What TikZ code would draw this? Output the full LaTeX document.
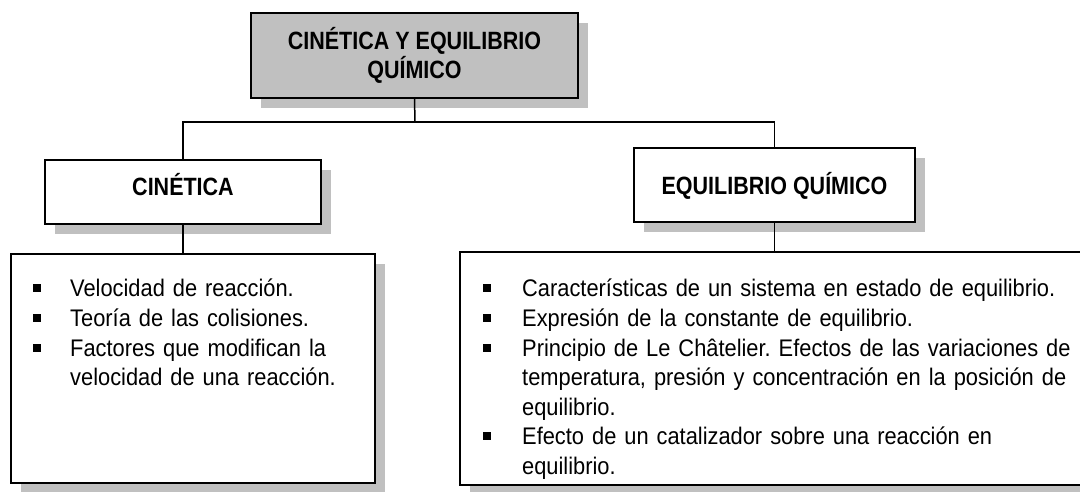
\documentclass[tikz,border=0pt]{standalone}
\usepackage{fontspec}
\setmainfont{Liberation Sans}[FakeStretch=0.91]
\newfontfamily\titlefont{Liberation Sans}[FakeStretch=0.86]
\usetikzlibrary{shadows}
\definecolor{boxgray}{RGB}{192,192,192}
\newlength\bulw
\newcommand{\bul}{\rule[4.5pt]{8pt}{8pt}}
\newcommand{\itm}[1]{\par\noindent\hangindent=\bulw\hangafter=1\makebox[\bulw][l]{\bul}#1}
\frenchspacing
\begin{document}
\begin{tikzpicture}[x=1pt,y=-1pt,
  box/.style={draw=black, line width=1.5pt, fill=white, rectangle, inner sep=0pt,
    drop shadow={shadow xshift=10pt,shadow yshift=-10pt,fill=boxgray,opacity=1}},
  link/.style={draw=black, line width=1.5pt},
  headtext/.style={font=\titlefont\bfseries\fontsize{25}{29}\selectfont},
  listtext/.style={font=\fontsize{24}{29.6}\selectfont\raggedright\frenchspacing, text width=#1, inner sep=0pt, anchor=north west}
]
\useasboundingbox (0,0) rectangle (1080,491);
\fill[white] (0,0) rectangle (1080,491);

% boxes
\node[box, fill=boxgray, minimum width=327pt, minimum height=85pt, headtext, align=center] (main) at (414.5,55.5) {CINÉTICA Y EQUILIBRIO\\QUÍMICO};
\node[box, minimum width=276pt, minimum height=64pt, headtext, text height=18pt, text depth=12pt] (cin) at (183,192) {CINÉTICA};
\node[box, minimum width=281pt, minimum height=74pt, headtext, text height=18pt, text depth=0pt] (eq) at (774.5,185) {EQUILIBRIO QUÍMICO};
\node[box, minimum width=364pt, minimum height=229pt] (leftlist) at (193,368.5) {};
\node[box, minimum width=630pt, minimum height=233pt] (rightlist) at (775,368.5) {};

% connectors
\coordinate (bus) at (415,122);
\draw[link] (main.south) -- (bus);
\draw[link] (cin.north) -- (cin.north |- bus) -- (eq.north |- bus) -- (eq.north);
\draw[link] (cin.south) -- (cin.south |- leftlist.north);
\draw[link] (eq.south) -- (eq.south |- rightlist.north);

% list texts
\node[listtext=330pt] (lefttxt) at (33,267) {\setlength\bulw{37pt}%
\itm{\rule{0pt}{23pt}Velocidad de reacción.}
\itm{Teoría de las colisiones.}
\itm{Factores que modifican la\newline velocidad de una reacción.}\par};
\node[listtext=595pt] (righttxt) at (483,267) {\setlength\bulw{39pt}%
\itm{\rule{0pt}{23pt}Características de un sistema en estado de equilibrio.}
\itm{Expresión de la constante de equilibrio.}
\itm{Principio de Le Châtelier. Efectos de las variaciones de\newline temperatura, presión y concentración en la posición de\newline equilibrio.}
\itm{Efecto de un catalizador sobre una reacción en\newline equilibrio.}\par};
\end{tikzpicture}
\end{document}
